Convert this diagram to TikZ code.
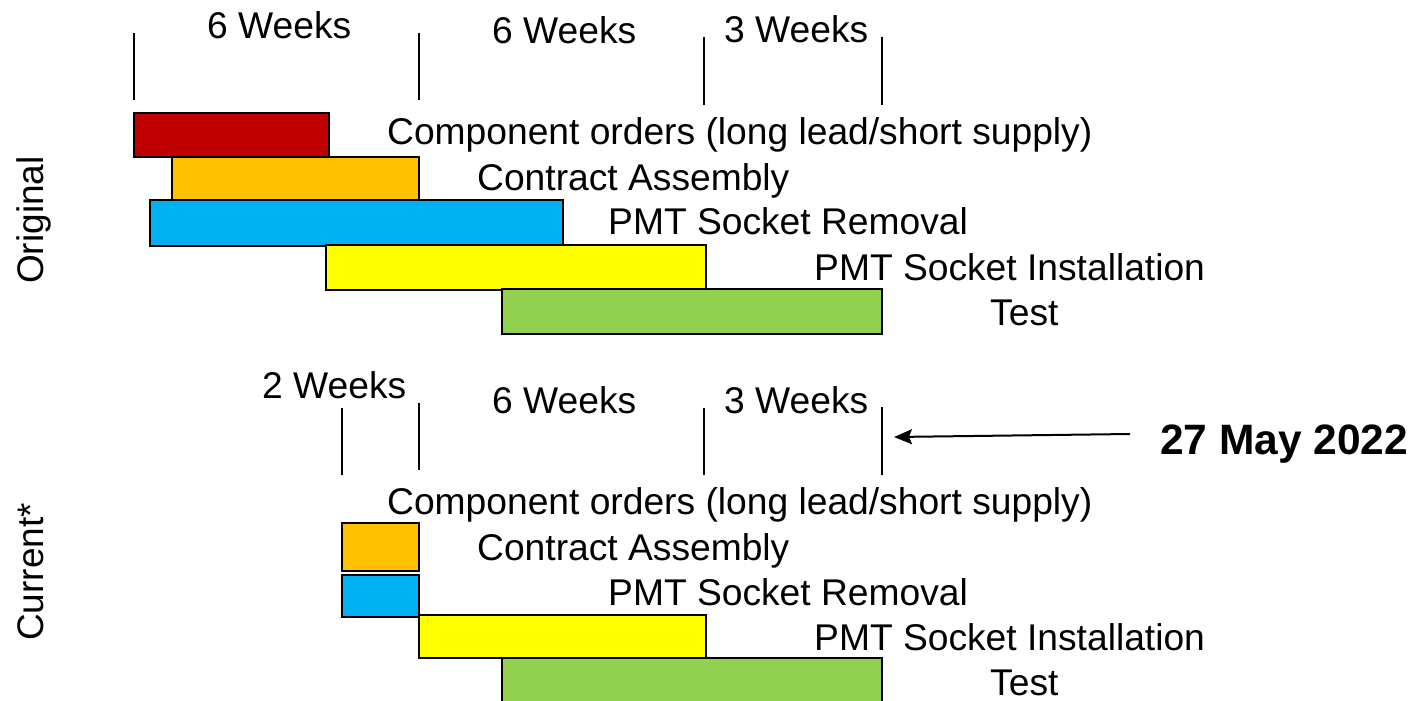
\documentclass[tikz,border=0pt]{standalone}
\usepackage{fontspec}
\setmainfont{Liberation Sans}
\usetikzlibrary{arrows.meta}
\definecolor{cred}{HTML}{C00000}
\definecolor{corange}{HTML}{FFC000}
\definecolor{cblue}{HTML}{00B0F0}
\definecolor{cyellow}{HTML}{FFFF00}
\definecolor{cgreen}{HTML}{92D050}
\begin{document}
\begin{tikzpicture}[x=1pt,y=-1pt,
  lbl/.style={anchor=base west,inner sep=0pt,font=\fontsize{37.2}{44}\selectfont},
  datelbl/.style={anchor=base west,inner sep=0pt,font=\fontsize{42.5}{48}\selectfont\bfseries},
  sidelbl/.style={anchor=base west,inner sep=0pt,rotate=90,font=\fontsize{37}{44}\selectfont},
  tick/.style={line width=1.5pt,black},
  bar/.style={draw=black,line width=1.8pt},
  pointer/.style={line width=2pt,-{Stealth[length=18pt,width=15pt,inset=3pt]}}]
\useasboundingbox[fill=white] (0,0) rectangle (1414,701);
% ---------- Original ----------
\node[sidelbl] (orig) at (43,284) {Original};
\draw[tick] (134,33) -- (134,100);
\draw[tick] (419,33) -- (419,100);
\draw[tick] (704,37) -- (704,105);
\draw[tick] (882,37) -- (882,105);
\node[lbl] (ow1) at (207,39) {6 Weeks};
\node[lbl] (ow2) at (492,44) {6 Weeks};
\node[lbl] (ow3) at (724,43) {3 Weeks};
\draw[bar,fill=cred]    (134,113) rectangle (329,157);
\draw[bar,fill=corange] (172,157) rectangle (419,200);
\draw[bar,fill=cblue]   (150,200) rectangle (563,246);
\draw[bar,fill=cyellow] (326,245) rectangle (706,290);
\draw[bar,fill=cgreen]  (502,289) rectangle (882,334);
\node[lbl] (oc) at (387,144) {Component orders (long lead/short supply)};
\node[lbl] (oa) at (477,190) {Contract Assembly};
\node[lbl] (or) at (608,234) {PMT Socket Removal};
\node[lbl] (oi) at (814,280) {PMT Socket Installation};
\node[lbl] (ot) at (990,325) {Test};
% ---------- Current ----------
\node[sidelbl] (curr) at (43,641) {Current*};
\draw[tick] (342,408) -- (342,475);
\draw[tick] (419,403) -- (419,470);
\draw[tick] (704,408) -- (704,475);
\coordinate (tkA) at (882,407);
\coordinate (tkB) at (882,475);
\draw[tick] (tkA) -- (tkB);
\node[lbl] (cw1) at (262,398) {2 Weeks};
\node[lbl] (cw2) at (492,413) {6 Weeks};
\node[lbl] (cw3) at (724,413) {3 Weeks};
\draw[bar,fill=corange] (342,523) rectangle (419,571);
\draw[bar,fill=cblue]   (342,575) rectangle (419,617);
\draw[bar,fill=cyellow] (419,615) rectangle (706,658);
\draw[bar,fill=cgreen]  (502,658) rectangle (882,712);
\node[lbl] (cc) at (387,514) {Component orders (long lead/short supply)};
\node[lbl] (ca) at (477,560) {Contract Assembly};
\node[lbl] (cr) at (608,605) {PMT Socket Removal};
\node[lbl] (ci) at (814,650) {PMT Socket Installation};
\node[lbl] (ct) at (990,695) {Test};
% ---------- date ----------
\node[datelbl] (date) at (1160,454) {27 May 2022};
\coordinate (arrtail) at (1130,434);
\coordinate (arrtip) at (894,437);
\draw[pointer] (arrtail) -- (arrtip);
\end{tikzpicture}
\end{document}
